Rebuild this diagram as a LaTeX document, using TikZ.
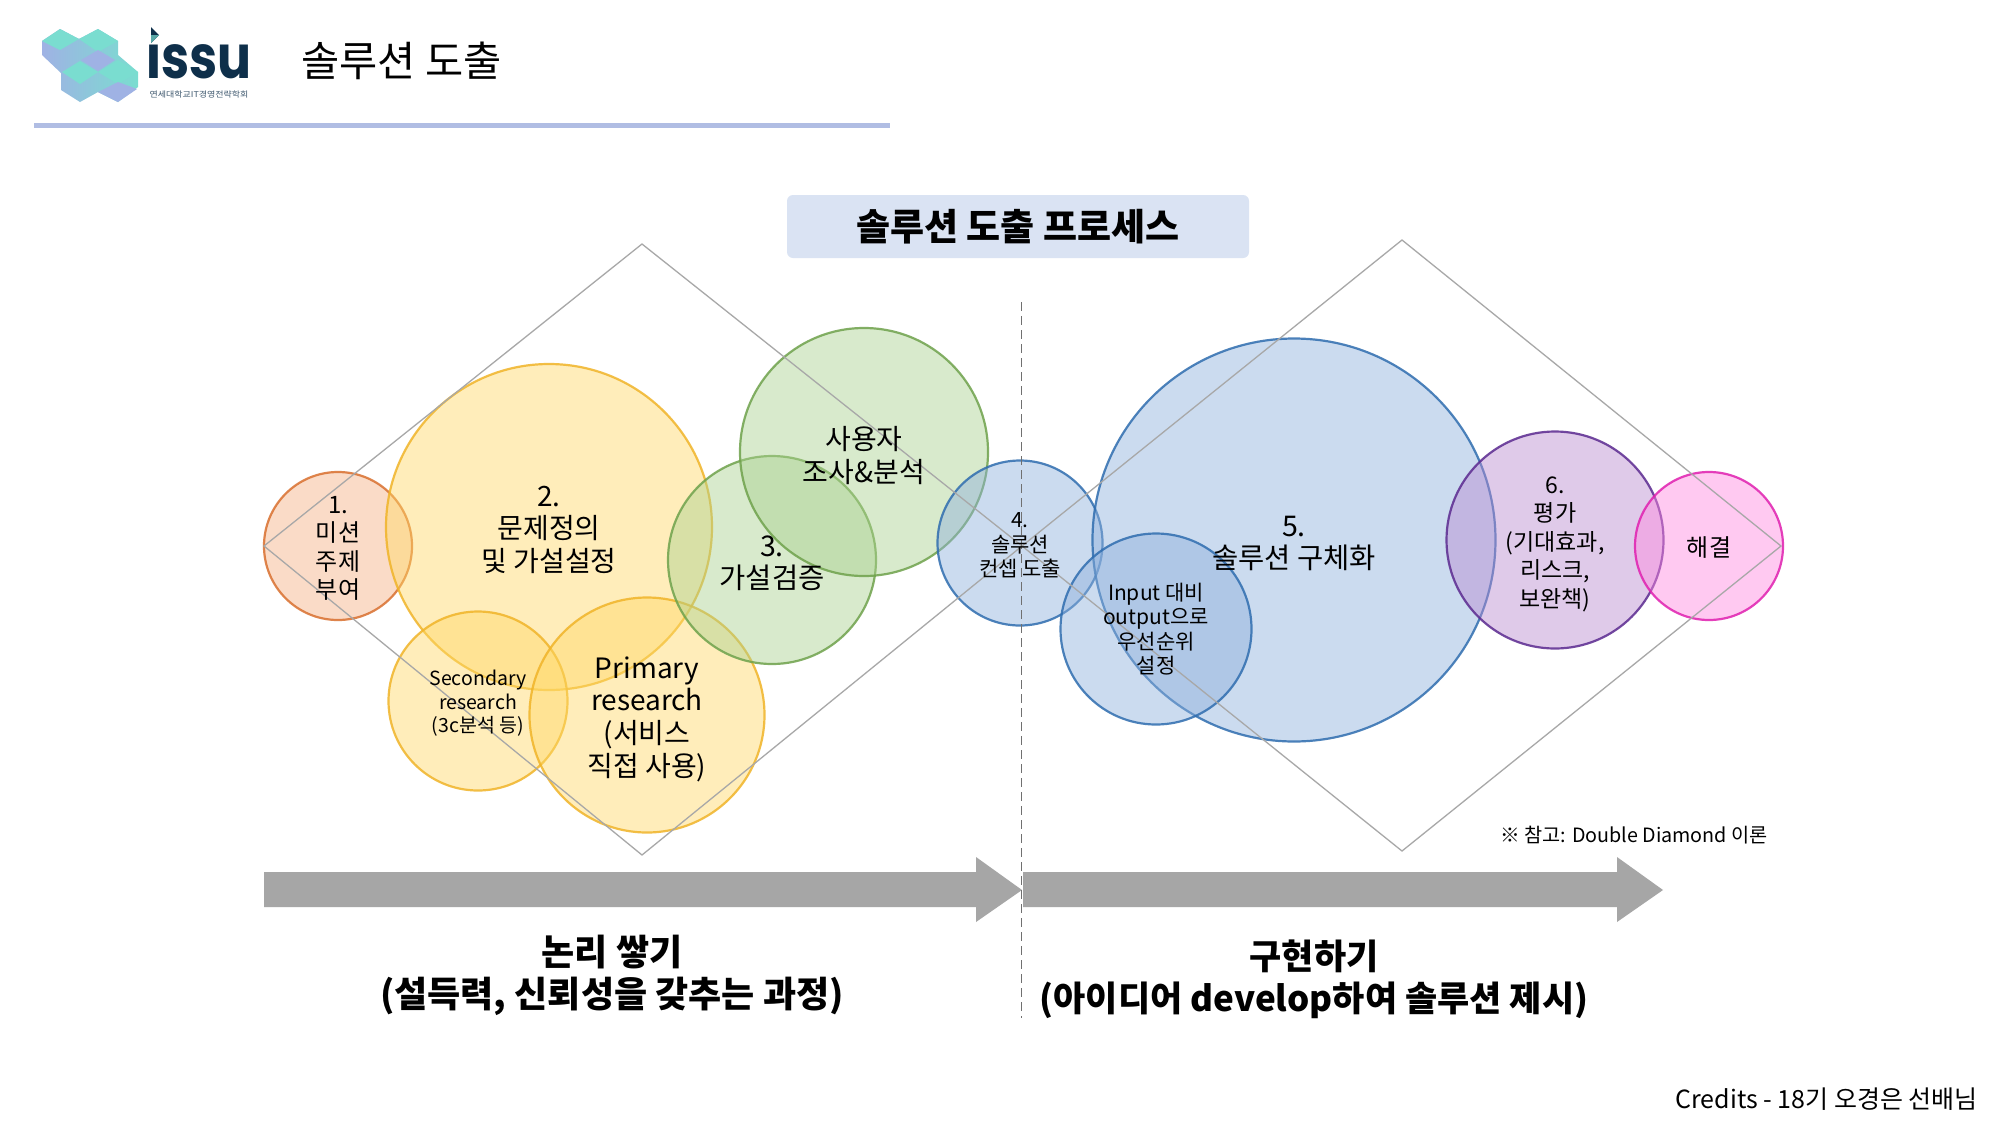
\documentclass[tikz,border=0pt]{standalone}
\usepackage{fontspec}
\usepackage{graphicx}
\setmainfont{Noto Sans CJK KR}
\newfontfamily\logofont{Poppins}
\definecolor{rulecol}{HTML}{B0BDE3}
\definecolor{boxcol}{HTML}{DAE3F3}
\definecolor{arrowcol}{HTML}{A6A6A6}
\definecolor{dmdcol}{HTML}{A8A8A8}
\definecolor{dashcol}{HTML}{707070}
\definecolor{teal1}{HTML}{7ADDD0}
\definecolor{peri}{HTML}{9FB2E4}
\definecolor{navy}{HTML}{0E2F4A}
\definecolor{orfill}{HTML}{F4B183}
\definecolor{ordraw}{HTML}{D9702F}
\definecolor{yefill}{HTML}{FFD966}
\definecolor{yedraw}{HTML}{F0B429}
\definecolor{grfill}{HTML}{A9D18E}
\definecolor{grdraw}{HTML}{6FA24C}
\definecolor{blfill}{HTML}{8DB0DC}
\definecolor{bldraw}{HTML}{2F6DAF}
\definecolor{pufill}{HTML}{B98AD0}
\definecolor{pudraw}{HTML}{5B2A90}
\definecolor{pifill}{HTML}{FF88E0}
\definecolor{pidraw}{HTML}{E020B0}
\newcommand{\fs}[2]{\fontsize{#1}{#2}\selectfont}
\tikzset{
  bub/.style={circle,inner sep=0pt,minimum size=#1,line width=2.2pt,fill opacity=.45,draw opacity=.85},
  orangeb/.style={fill=orfill,draw=ordraw},
  yellowb/.style={fill=yefill,draw=yedraw},
  greenb/.style={fill=grfill,draw=grdraw},
  blueb/.style={fill=blfill,draw=bldraw},
  purpleb/.style={fill=pufill,draw=pudraw},
  pinkb/.style={fill=pifill,draw=pidraw},
  lab/.style={align=center,inner sep=0pt,text=black},
  dmd/.style={draw=dmdcol,line width=1.3pt,line join=miter},
  bigarrow/.style={fill=arrowcol,draw=none},
}
\begin{document}
\begin{tikzpicture}[x=1pt,y=-1pt]
\useasboundingbox (0,0) rectangle (2000,1125);
\fill[white] (0,0) rectangle (2000,1125);
% logo
\path[left color=peri,right color=teal1,middle color=peri!50!teal1]
 (60,29)--(79,39)--(98,29)--(118,41)--(118,55)--(138,72)--(138,87)--(118,102)--(98,92)--(80,102)--(61,90)--(61,73)--(42,55)--(42,41)--cycle;
\fill[teal1] (60,29)--(79,39)--(60,50)--(42,41)--cycle;
\fill[teal1] (98,29)--(118,41)--(98,52)--(79,39)--cycle;
\fill[peri] (98,50)--(115,60)--(98,71)--(81,60)--cycle;
\fill[teal1] (80,61)--(98,72)--(80,84)--(62,72)--cycle;
\fill[teal1] (118,60)--(138,72)--(118,84)--(98,72)--cycle;
\fill[peri] (118,82)--(137,89)--(118,102)--(98,92)--cycle;
\node[lab,anchor=base west,text=navy] (logotext) at (146,78) {\scalebox{.84}[1]{\logofont\bfseries\fontsize{60}{60}\selectfont issu}};
\fill[white] (146,24) rectangle (166,44);
\fill[navy] (151,27)--(159,35)--(151,43)--cycle;
\fill[teal1!70!navy] (151,35)--(159,35)--(151,43)--cycle;
\node[lab,anchor=center,text=navy!80,font=\fs{8}{8}] (logosub) at (199,94) {\scalebox{1.12}[1]{연세대학교IT경영전략학회}};
\node[lab,anchor=base west,font=\fs{41.5}{44}] (title) at (301,76) {솔루션 도출};
\fill[rulecol] (34,122.5) rectangle (890,127.5);
% title box
\node[draw=none,fill=boxcol,rounded corners=6pt,minimum width=462pt,minimum height=63pt,inner sep=0pt,font=\bfseries\fs{37}{40}] (procbox) at (1018,226.5) {\raisebox{-1pt}{솔루션 도출 프로세스}};
% circles
\node[bub=148pt,orangeb] (c1) at (338,546) {};
\node[bub=326pt,yellowb] (c2) at (549,527) {};
\node[bub=179pt,yellowb] (cs) at (478,701) {};
\node[bub=235pt,yellowb] (cp) at (647,715) {};
\node[bub=208pt,greenb] (c3) at (772,560) {};
\node[bub=248pt,greenb] (cu) at (864,452) {};
\node[bub=165pt,blueb] (c4) at (1020,543) {};
\node[bub=403pt,blueb] (c5) at (1294,540) {};
\node[bub=191pt,blueb] (ci) at (1156,629) {};
\node[bub=217pt,purpleb] (c6) at (1555,540) {};
\node[bub=148pt,pinkb] (c7) at (1709,546) {};
% diamonds
\coordinate (d1l) at (264,546);\coordinate (d1t) at (642,244);\coordinate (d1r) at (1022,546);\coordinate (d1b) at (642,855);
\coordinate (d2l) at (1022,546);\coordinate (d2t) at (1402,240);\coordinate (d2r) at (1781,546);\coordinate (d2b) at (1402,851);
\draw[dmd] (d1l)--(d1t)--(d1r)--(d1b)--cycle;
\draw[dmd] (d2l)--(d2t)--(d2r)--(d2b)--cycle;
% arrows
\fill[bigarrow] (264,872)--(976,872)--(976,857)--(1022,890)--(976,922)--(976,907)--(264,907)--cycle;
\fill[bigarrow] (1023,872)--(1617,872)--(1617,857)--(1663,890)--(1617,922)--(1617,907)--(1023,907)--cycle;
% dashed
\coordinate (dashtop) at (1021.5,302);\coordinate (dashbot) at (1021.5,1018);
\draw[dashcol,line width=1.5pt,dash pattern=on 9pt off 5pt] (dashtop)--(dashbot);
% labels
\node[lab,font=\fs{24}{28.5}] (l1) at (338,548.5) {1.\\미션\\주제\\부여};
\node[lab,font=\fs{28}{32.5}] (l2) at (549,529.5) {2.\\문제정의\\및 가설설정};
\node[lab,font=\fs{19.5}{23.5}] (ls) at (478,703.5) {Secondary\\research\\(3c분석 등)};
\node[lab,font=\fs{28}{32.7}] (lp) at (647,719) {Primary\\research\\(서비스\\직접 사용)};
\node[lab,font=\fs{28.5}{32}] (l3) at (772,563) {3.\\가설검증};
\node[lab,font=\fs{28}{33}] (lu) at (864,455.5) {사용자\\조사\&분석};
\node[lab,font=\fs{21}{24.5}] (l4) at (1020,545.5) {4.\\솔루션\\컨셉 도출};
\node[lab,font=\fs{28.5}{31.5}] (l5) at (1294,543.5) {5.\\솔루션 구체화};
\node[lab,font=\fs{21}{24.5}] (li) at (1156,629) {Input 대비\\output으로\\우선순위\\설정};
\node[lab,font=\fs{23}{28.5}] (l6) at (1555,544) {6.\\평가\\(기대효과,\\리스크,\\보완책)};
\node[lab,font=\fs{24}{28}] (l7) at (1709,547.5) {해결};
\node[lab,anchor=east,font=\fs{19.7}{24}] (note) at (1768,835) {※ 참고: Double Diamond 이론};
\node[lab,font=\bfseries\fs{36}{42}] (bl) at (612,975) {논리 쌓기\\(설득력, 신뢰성을 갖추는 과정)};
\node[lab,font=\bfseries\fs{35}{42}] (br) at (1314,979) {구현하기\\(아이디어 develop하여 솔루션 제시)};
\node[lab,anchor=east,font=\fs{25}{28}] (credits) at (1978,1099.5) {Credits - 18기 오경은 선배님};
\end{tikzpicture}
\end{document}
